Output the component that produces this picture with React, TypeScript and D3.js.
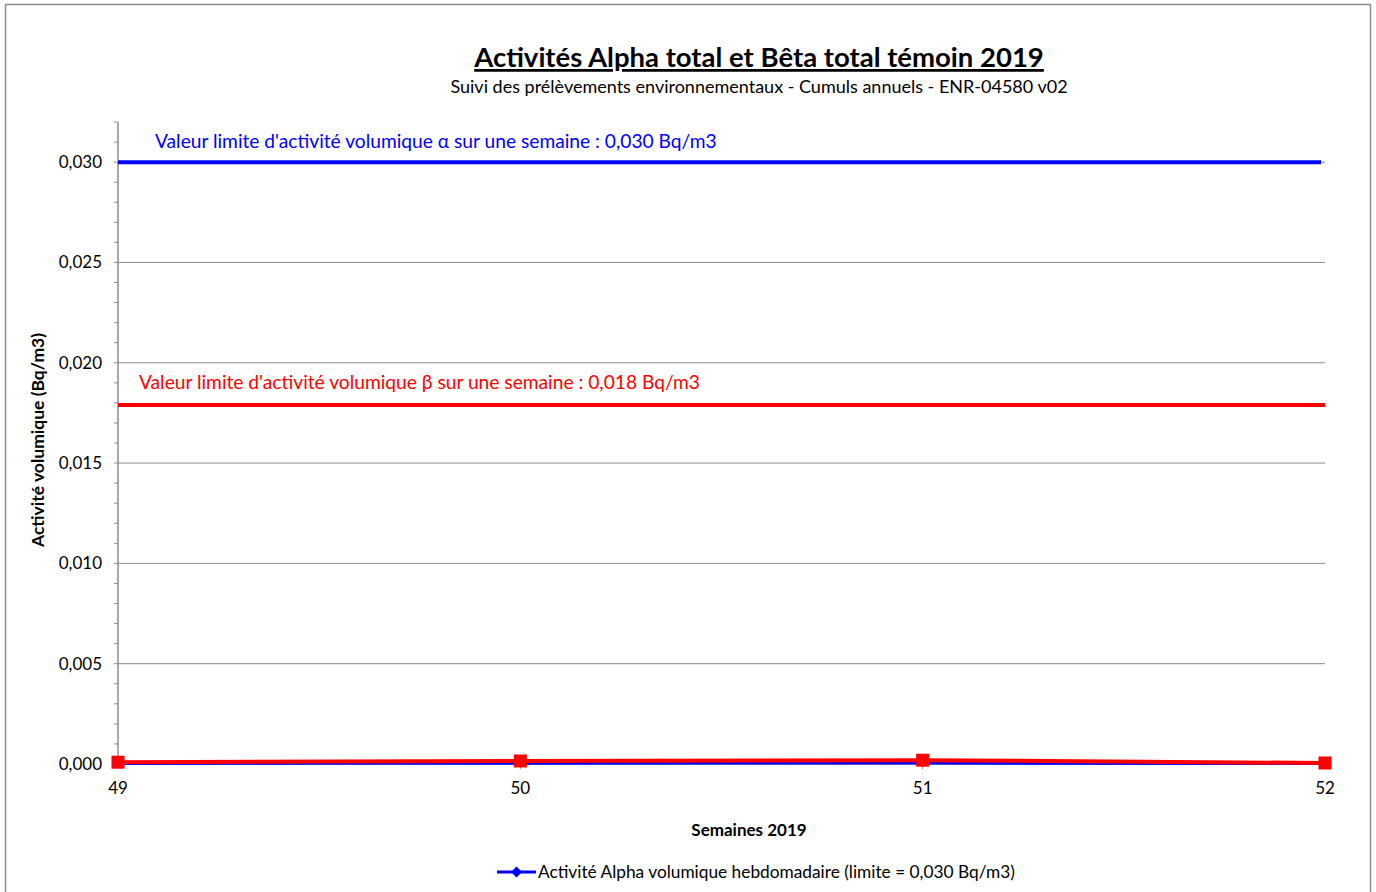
import * as d3 from 'd3';

const weeks = [49, 50, 51, 52];
const alphaValues = [0.00003, 0.00004, 0.00005, 0.00002];
const betaValues = [0.00009, 0.00015, 0.00019, 0.00005];
const alphaLimit = 0.03;
const betaLimit = 0.0179;
const yTicks = [0, 0.005, 0.01, 0.015, 0.02, 0.025, 0.03];

const FONT = 'Lato, "Open Sans", sans-serif';

export default function App() {
  const width = 1376;
  const height = 892;
  const x0 = 118;
  const x1 = 1325;
  const y0 = 764;
  const yTop = 122;

  const x = d3.scaleLinear().domain([49, 52]).range([x0, x1]);
  const y = d3.scaleLinear().domain([0, 0.032]).range([y0, yTop]);

  const minor = d3.range(0, 0.0325, 0.001);
  const fmt = (v: number) => v.toFixed(3).replace('.', ',');

  const line = d3
    .line<number>()
    .x((_, i) => x(weeks[i]))
    .y((d) => y(d));

  return (
    <svg width={width} height={height} style={{ position: 'absolute', left: 0, top: 0 }}>
      <rect x={0} y={0} width={width} height={height} fill="#fff" />
      <rect x={5.5} y={4.5} width={1365} height={900} fill="none" stroke="#8c8c8c" strokeWidth={1.5} />

      <text x={759} y={67} textAnchor="middle" fontFamily={FONT} fontSize={27.5} fontWeight="bold" textDecoration="underline" fill="#000">
        Activités Alpha total et Bêta total témoin 2019
      </text>
      <text x={759} y={93} textAnchor="middle" fontFamily={FONT} fontSize={18} fill="#000">
        Suivi des prélèvements environnementaux - Cumuls annuels - ENR-04580 v02
      </text>

      {/* gridlines */}
      {yTicks.map((t) => (
        <line key={'g' + t} x1={x0} x2={x1} y1={y(t)} y2={y(t)} stroke="#8c8c8c" strokeWidth={1} />
      ))}

      {/* y axis */}
      <line x1={x0} x2={x0} y1={yTop} y2={y0} stroke="#8c8c8c" strokeWidth={1.5} />
      {minor.map((t, i) => (
        <line key={'m' + i} x1={x0 - 4} x2={x0} y1={y(t)} y2={y(t)} stroke="#8c8c8c" strokeWidth={1} />
      ))}
      {yTicks.map((t) => (
        <text key={'yl' + t} x={102} y={y(t) + 6} textAnchor="end" fontFamily={FONT} fontSize={17} fill="#000">
          {fmt(t)}
        </text>
      ))}

      {/* x axis */}
      <line x1={x0} x2={x1} y1={y0} y2={y0} stroke="#8c8c8c" strokeWidth={1.5} />
      {weeks.map((w) => (
        <g key={'x' + w}>
          <line x1={x(w)} x2={x(w)} y1={y0} y2={y0 + 5} stroke="#8c8c8c" strokeWidth={1} />
          <text x={x(w)} y={794} textAnchor="middle" fontFamily={FONT} fontSize={17} fill="#000">
            {w}
          </text>
        </g>
      ))}

      <text x={749} y={836} textAnchor="middle" fontFamily={FONT} fontSize={17} fontWeight="bold" fill="#000">
        Semaines 2019
      </text>
      <text
        transform={`translate(44, ${440}) rotate(-90)`}
        textAnchor="middle"
        fontFamily={FONT}
        fontSize={17.5}
        fontWeight="bold"
        fill="#000"
      >
        Activité volumique (Bq/m3)
      </text>

      {/* limit lines */}
      <line x1={x0} x2={1321} y1={y(alphaLimit)} y2={y(alphaLimit)} stroke="#0000ff" strokeWidth={4} />
      <line x1={x0} x2={x1} y1={y(betaLimit)} y2={y(betaLimit)} stroke="#ff0000" strokeWidth={4} />
      <text x={155} y={148} fontFamily={FONT} fontSize={19.2} fill="#0000ff">
        Valeur limite d'activité volumique α sur une semaine : 0,030 Bq/m3
      </text>
      <text x={139} y={389} fontFamily={FONT} fontSize={19.2} fill="#ff0000">
        Valeur limite d'activité volumique β sur une semaine : 0,018 Bq/m3
      </text>

      {/* series */}
      <path d={line(alphaValues) || ''} fill="none" stroke="#0000ff" strokeWidth={3} />
      <path d={line(betaValues) || ''} fill="none" stroke="#ff0000" strokeWidth={4} />
      {betaValues.map((v, i) => (
        <rect key={'b' + i} x={x(weeks[i]) - 6.5} y={y(v) - 6.5} width={13} height={13} fill="#ff0000" />
      ))}

      {/* legend */}
      <line x1={497} x2={536} y1={872} y2={872} stroke="#0000ff" strokeWidth={3} />
      <path d="M516.5,866.5 L522,872 L516.5,877.5 L511,872 Z" fill="#0000ff" />
      <text x={538} y={878} fontFamily={FONT} fontSize={17.3} fill="#000">
        Activité Alpha volumique hebdomadaire (limite = 0,030 Bq/m3)
      </text>
    </svg>
  );
}
